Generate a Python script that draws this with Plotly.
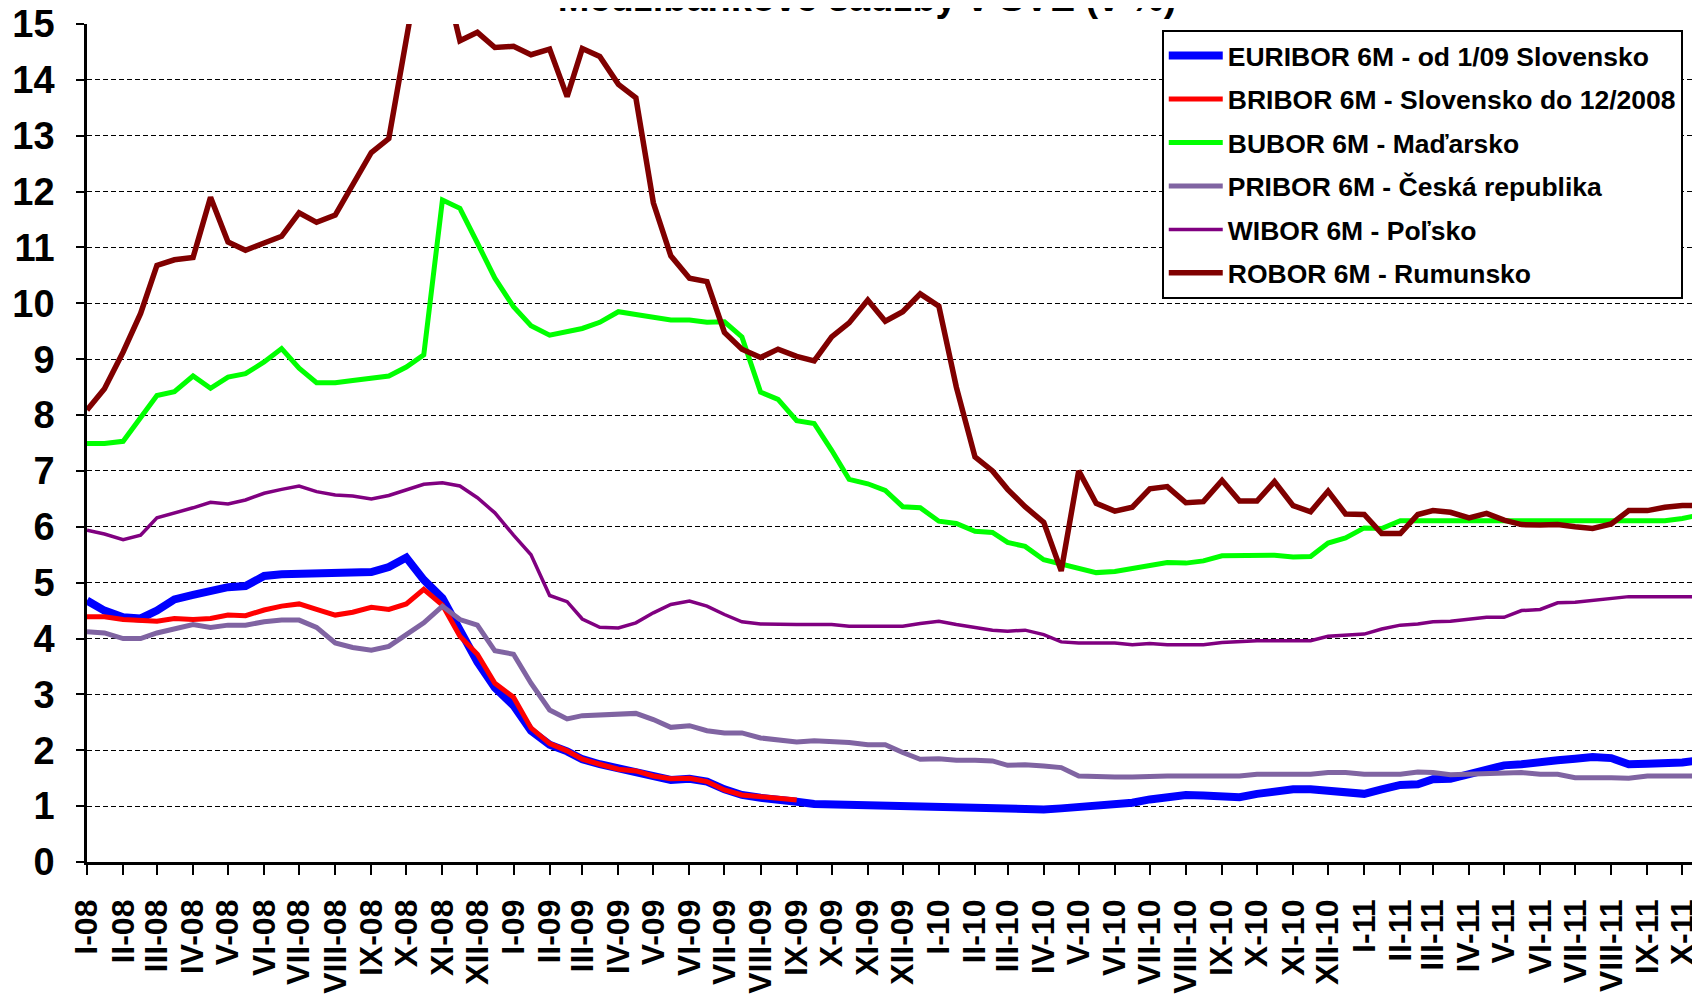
import plotly.graph_objects as go
import pandas as pd

# ---- dates: 1st and 16th of each month, Jan 2008 .. Oct 2011 (last obs 11 Oct 2011)
months = pd.date_range("2008-01-01", "2011-10-01", freq="MS")
dates = []
for mth in months:
    dates.append(mth)
    dates.append(mth + pd.Timedelta(days=15))
dates[-1] = pd.Timestamp("2011-10-11")

tick_dates = list(months)
roman = ["I", "II", "III", "IV", "V", "VI", "VII", "VIII", "IX", "X", "XI", "XII"]
tick_labels = [f"{roman[d.month - 1]}-{str(d.year)[2:]}" for d in tick_dates]

euribor = [4.68, 4.5, 4.38, 4.36, 4.5, 4.7, 4.78, 4.86, 4.92, 4.94,
           5.12, 5.15, 5.16, 5.16, 5.17, 5.18, 5.19, 5.28, 5.45, 5.05,
           4.72, 4.15, 3.58, 3.12, 2.8, 2.35, 2.1, 1.98, 1.84, 1.75,
           1.67, 1.6, 1.53, 1.47, 1.49, 1.44, 1.3, 1.2, 1.15, 1.13,
           1.08, 1.04, 1.03, 1.04, 1.02, 1.0, 1.01, 1.0, 0.99, 0.97,
           0.97, 0.96, 0.96, 0.95, 0.94, 0.96, 0.99, 1.0, 1.02, 1.06,
           1.12, 1.17, 1.2, 1.19, 1.18, 1.16, 1.22, 1.27, 1.3, 1.3,
           1.28, 1.26, 1.22, 1.3, 1.38, 1.39, 1.48, 1.49, 1.58, 1.67,
           1.73, 1.75, 1.77, 1.82, 1.85, 1.88, 1.86, 1.75, 1.76, 1.76,
           1.78, 1.81]

bribor = [4.39, 4.39, 4.34, 4.33, 4.31, 4.36, 4.34, 4.36, 4.42, 4.41,
          4.51, 4.58, 4.62, 4.52, 4.42, 4.47, 4.56, 4.52, 4.62, 4.88,
          4.6, 4.04, 3.72, 3.2, 2.95, 2.4, 2.12, 1.99, 1.84, 1.75,
          1.66, 1.63, 1.54, 1.49, 1.5, 1.44, 1.29, 1.2, 1.16, 1.14,
          1.11] + [None] * 51

bubor = [7.49, 7.49, 7.53, 7.97, 8.35, 8.42, 8.7, 8.48, 8.68, 8.74,
         8.95, 9.19, 8.84, 8.58, 8.58, 8.62, 8.65, 8.7, 8.86, 9.08,
         11.85, 11.7, 11.08, 10.45, 9.94, 9.6, 9.43, 9.49, 9.55, 9.66,
         9.85, 9.8, 9.75, 9.7, 9.7, 9.66, 9.67, 9.4, 8.41, 8.28,
         7.9, 7.85, 7.37, 6.85, 6.77, 6.65, 6.36, 6.34, 6.1, 6.06,
         5.92, 5.9, 5.72, 5.65, 5.41, 5.33, 5.24, 5.18, 5.2, 5.26,
         5.3, 5.36, 5.35, 5.39, 5.48, 5.49, 5.49, 5.49, 5.46, 5.47,
         5.71, 5.8, 5.98, 5.97, 6.11, 6.11, 6.11, 6.11, 6.11, 6.11,
         6.11, 6.11, 6.11, 6.11, 6.11, 6.11, 6.11, 6.11, 6.11, 6.11,
         6.15, 6.19]

pribor = [4.12, 4.1, 4.0, 4.0, 4.1, 4.18, 4.25, 4.2, 4.24, 4.24,
          4.3, 4.33, 4.33, 4.2, 3.92, 3.84, 3.79, 3.86, 4.06, 4.28,
          4.58, 4.34, 4.24, 3.78, 3.72, 3.2, 2.72, 2.56, 2.62, 2.63,
          2.66, 2.66, 2.55, 2.41, 2.44, 2.35, 2.31, 2.31, 2.22, 2.18,
          2.15, 2.17, 2.16, 2.14, 2.1, 2.1, 1.96, 1.84, 1.85, 1.82,
          1.82, 1.81, 1.73, 1.74, 1.72, 1.69, 1.54, 1.52, 1.52, 1.52,
          1.54, 1.54, 1.54, 1.54, 1.54, 1.54, 1.57, 1.57, 1.57, 1.57,
          1.6, 1.6, 1.57, 1.57, 1.57, 1.61, 1.6, 1.56, 1.57, 1.6,
          1.6, 1.6, 1.57, 1.57, 1.51, 1.52, 1.51, 1.5, 1.54, 1.54,
          1.54, 1.54]

wibor = [5.94, 5.87, 5.77, 5.85, 6.16, 6.24, 6.34, 6.44, 6.41, 6.48,
         6.6, 6.67, 6.73, 6.63, 6.57, 6.55, 6.5, 6.56, 6.66, 6.76,
         6.79, 6.73, 6.52, 6.25, 5.85, 5.5, 4.77, 4.66, 4.35, 4.2,
         4.19, 4.28, 4.46, 4.61, 4.67, 4.58, 4.43, 4.3, 4.26, 4.25,
         4.25, 4.25, 4.25, 4.22, 4.22, 4.22, 4.22, 4.27, 4.31, 4.25,
         4.2, 4.15, 4.13, 4.15, 4.07, 3.94, 3.92, 3.92, 3.92, 3.89,
         3.91, 3.89, 3.89, 3.89, 3.93, 3.95, 3.96, 3.96, 3.96, 3.96,
         4.04, 4.06, 4.08, 4.17, 4.24, 4.26, 4.3, 4.31, 4.35, 4.38,
         4.38, 4.5, 4.52, 4.64, 4.65, 4.68, 4.72, 4.75, 4.75, 4.75,
         4.75, 4.75]

robor = [8.09, 8.47, 9.13, 9.82, 10.68, 10.78, 10.82, 11.9, 11.1, 10.95,
         11.08, 11.2, 11.62, 11.45, 11.58, 12.1, 12.7, 12.95, 14.6, 16.5,
         16.0, 14.7, 14.85, 14.58, 14.6, 14.45, 14.55, 13.7, 14.56, 14.42,
         13.92, 13.68, 11.8, 10.85, 10.45, 10.39, 9.48, 9.18, 9.03, 9.18,
         9.05, 8.97, 9.4, 9.65, 10.06, 9.68, 9.85, 10.17, 9.95, 8.5,
         7.25, 7.0, 6.67, 6.36, 6.08, 5.21, 7.0, 6.42, 6.28, 6.35,
         6.68, 6.72, 6.43, 6.45, 6.83, 6.46, 6.46, 6.81, 6.38, 6.27,
         6.64, 6.23, 6.22, 5.88, 5.88, 6.22, 6.29, 6.26, 6.16, 6.24,
         6.12, 6.04, 6.03, 6.04, 6.0, 5.97, 6.05, 6.29, 6.29, 6.35,
         6.38, 6.38]

series = [
    ("EURIBOR 6M - od 1/09 Slovensko", euribor, "#0000FF", 8),
    ("BRIBOR 6M - Slovensko do 12/2008", bribor, "#FF0000", 5),
    ("BUBOR 6M - Maďarsko", bubor, "#00FF00", 5),
    ("PRIBOR 6M - Česká republika", pribor, "#8064A2", 5),
    ("WIBOR 6M - Poľsko", wibor, "#800080", 3.5),
    ("ROBOR 6M - Rumunsko", robor, "#800000", 5.5),
]

FONT = "Liberation Sans, Arial, sans-serif"

fig = go.Figure()
for i, (name, vals, col, w) in enumerate(series):
    fig.add_trace(go.Scatter(
        x=dates, y=vals, name=name, mode="lines",
        line=dict(color=col, width=w),
        legendgroup=f"g{i}",
        connectgaps=False,
    ))

# the page body has an 8px margin, so the figure is sized to fit the window
fig.update_layout(
    width=1692, height=988,
    margin=dict(l=79, r=6, t=16, b=134, autoexpand=False),
    paper_bgcolor="white", plot_bgcolor="white",
    font=dict(family=FONT, color="black", weight="bold"),
    title=dict(text="Medzibankové sadzby v SVE (v %)", x=0.5077, xref="container",
               xanchor="center", y=0.9965, yref="container", yanchor="bottom",
               automargin=False,
               font=dict(family=FONT, size=38, color="black", weight="bold")),
    showlegend=True,
    legend=dict(x=0.993, xanchor="right", y=0.993, yanchor="top",
                bgcolor="white", bordercolor="black", borderwidth=2,
                font=dict(family=FONT, size=26.5, color="black", weight="bold"),
                itemwidth=54,
                traceorder="grouped", tracegroupgap=6),
    xaxis=dict(
        type="date", automargin=False,
        range=[pd.Timestamp("2008-01-01"), pd.Timestamp("2011-10-11")],
        tickmode="array", tickvals=tick_dates, ticktext=tick_labels,
        tickangle=-90, ticks="outside", ticklen=10, tickwidth=1.5, tickcolor="black",
        ticklabelstandoff=12, ticklabeloverflow="allow",
        tickfont=dict(family=FONT, size=32, color="black", weight="bold"),
        showgrid=False, zeroline=False,
        showline=True, linecolor="black", linewidth=2.5,
    ),
    yaxis=dict(
        range=[0, 15], tickmode="linear", tick0=0, dtick=1, automargin=False,
        ticks="outside", ticklen=8, tickwidth=1.5, tickcolor="black",
        ticklabelstandoff=14, ticklabeloverflow="allow",
        tickfont=dict(family=FONT, size=38, color="black", weight="bold"),
        showgrid=True, gridcolor="black", gridwidth=1, griddash="5px,3px",
        zeroline=False,
        showline=True, linecolor="black", linewidth=2.5,
    ),
)

# gray plot-area border on the right side
fig.add_shape(type="line", xref="paper", yref="paper", x0=1, x1=1, y0=0, y1=1,
              line=dict(color="#808080", width=2), layer="below")

fig.write_html("out.html")
